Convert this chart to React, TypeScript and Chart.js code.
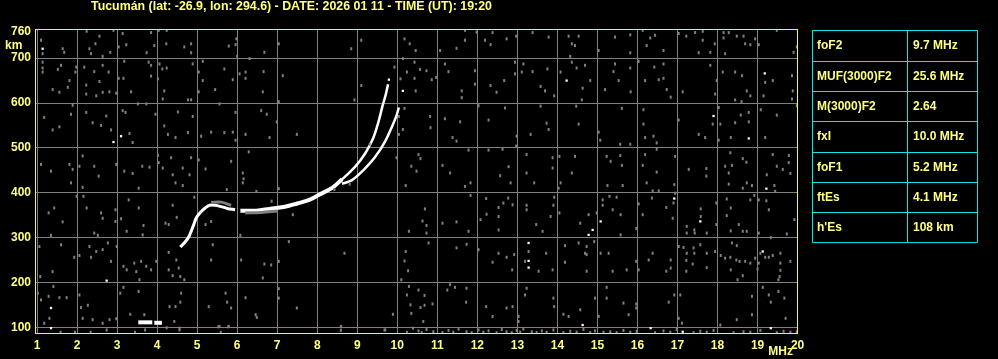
import { useEffect, useRef } from "react";
import { Chart, registerables } from "chart.js";

Chart.register(...registerables);

type P = [number, number];

const TITLE = "Tucumán (lat: -26.9, lon: 294.6) - DATE: 2026 01 11 - TIME (UT): 19:20";
const freqTicks = [1, 2, 3, 4, 5, 6, 7, 8, 9, 10, 11, 12, 13, 14, 15, 16, 17, 18, 19, 20];
const heightTicks = [100, 200, 300, 400, 500, 600, 700, 760];
const paramNames = ["foF2", "MUF(3000)F2", "M(3000)F2", "fxI", "foF1", "ftEs", "h'Es"];
const paramValues = ["9.7 MHz", "25.6 MHz", "2.64", "10.0 MHz", "5.2 MHz", "4.1 MHz", "108 km"];

// Echo traces (frequency MHz, virtual height km)
const traceF1: P[] = [[4.58, 279], [4.7, 290], [4.8, 303], [4.92, 330], [4.98, 344], [5.08, 356], [5.2, 366], [5.31, 372], [5.45, 372], [5.6, 369], [5.75, 365], [5.95, 362]];
const traceF2Low: P[] = [[6.08, 360], [6.48, 360], [6.81, 364], [7.16, 368], [7.5, 376], [7.8, 384], [8.06, 396], [8.39, 412], [8.62, 430]];
const traceF2High: P[] = [[8.6, 428], [8.95, 458], [9.2, 488], [9.4, 522], [9.53, 558], [9.63, 593], [9.71, 618], [9.77, 642]];
const traceX: P[] = [[8.62, 420], [8.87, 428], [9.15, 450], [9.45, 480], [9.7, 515], [9.88, 550], [9.98, 572], [10.04, 590]];
const traceEsA: P[] = [[3.53, 111], [3.88, 111]];
const traceEsB: P[] = [[3.93, 110], [4.12, 110]];
const fringeF1: P[] = [[5.35, 378], [5.6, 379], [5.85, 372]];
const fringeF2: P[] = [[6.2, 355], [6.6, 356], [7.0, 359]];

// Bright isolated echoes
const noiseWhite: P[] = [[1.14, 721], [10.14, 627], [3.1, 526], [2.91, 513], [14.23, 650], [19.18, 666], [17.9, 571], [18.78, 521], [1.35, 143], [1.35, 98], [2.74, 204], [19.22, 409], [14.78, 306], [14.88, 317], [15.08, 336], [16.92, 387], [17.57, 336], [13.28, 288], [13.28, 248], [13.28, 233], [14.63, 105], [16.33, 98], [17.13, 90], [19.33, 98], [19.13, 269], [9.79, 652]];

// Grey background echoes, read region by region
const noiseUpperLeft: P[] = [[2.24, 760], [2.56, 749], [2.91, 762], [3.14, 755], [3.85, 757], [4.04, 762], [4.24, 762], [1.10, 740], [1.14, 710], [1.14, 691], [1.14, 669], [1.68, 713], [1.64, 721], [2.31, 721], [2.35, 710], [2.46, 732], [2.64, 704], [2.83, 713], [3.04, 725], [3.23, 730], [3.74, 712], [3.93, 728], [4.23, 732], [4.68, 725], [4.85, 732], [4.85, 712], [5.79, 727], [5.98, 743], [5.96, 730], [6.0, 704], [6.68, 713], [7.04, 732], [8.85, 721], [9.1, 740], [10.18, 743], [10.31, 732], [10.46, 717], [10.14, 699],
  [1.14, 678], [1.6, 684], [1.52, 675], [1.81, 650], [1.77, 635], [1.39, 630], [1.56, 624], [1.96, 669], [1.98, 680], [2.18, 680], [2.43, 670], [2.64, 684], [2.79, 669], [2.56, 648], [2.23, 640], [2.23, 620], [2.48, 616], [2.64, 624], [2.81, 625], [2.98, 622], [3.04, 655], [3.18, 693], [3.16, 655], [3.35, 625], [3.79, 691], [3.85, 684], [3.85, 660], [4.06, 687], [4.13, 676], [4.24, 678], [4.02, 654], [4.18, 627], [4.14, 609], [4.89, 687], [4.77, 607], [4.85, 607], [5.14, 693], [5.04, 669], [5.14, 650], [5.04, 625], [5.45, 630], [5.68, 676], [5.89, 652], [6.06, 665], [6.21, 669], [6.21, 655], [6.31, 699], [6.66, 670], [6.64, 625], [7.14, 661], [7.04, 603], [8.93, 607], [9.1, 639], [9.93, 680], [10.08, 654], [10.24, 669], [10.43, 691], [10.43, 655], [10.46, 627],
  [1.18, 568], [1.39, 540], [1.56, 547], [1.85, 575], [1.89, 595], [2.23, 579], [2.39, 556], [2.73, 571], [2.6, 550], [2.85, 540], [3.14, 583], [3.21, 579], [3.31, 532], [3.39, 512], [3.52, 598], [3.73, 598], [3.96, 575], [4.18, 549], [4.27, 530], [4.46, 523], [4.52, 580], [4.77, 534], [4.89, 570], [5.1, 526], [5.35, 535], [5.56, 598], [5.68, 534], [5.89, 535], [5.96, 579], [5.96, 517], [6.21, 530], [6.6, 583], [6.74, 575], [6.81, 523], [6.99, 558], [7.49, 530], [10.18, 588], [10.04, 570], [10.14, 541], [10.04, 530],
  [1.1, 463], [1.35, 448], [1.81, 463], [1.89, 452], [2.06, 459], [2.14, 482], [2.43, 459], [2.54, 437], [2.98, 463], [3.18, 448], [3.39, 443], [3.63, 459], [3.81, 457], [4.02, 483], [4.04, 467], [4.14, 455], [4.35, 478], [4.39, 440], [4.64, 455], [4.81, 440], [4.85, 478], [5.04, 473], [5.21, 453], [5.85, 470], [6.14, 444], [6.16, 431], [6.29, 491], [9.31, 508], [9.98, 478], [10.35, 459], [10.48, 448]];

const noiseUpperRight: P[] = [[11.69, 762], [11.98, 758], [12.38, 757], [12.19, 740], [12.33, 730], [12.73, 743], [12.97, 749], [13.38, 757], [13.78, 747], [14.28, 749], [14.53, 749], [14.36, 732], [14.44, 728], [14.32, 704], [15.03, 717], [15.44, 747], [15.82, 752], [15.82, 712], [16.13, 762], [16.32, 745], [16.44, 751], [16.23, 728], [16.65, 717], [17.03, 755], [17.22, 749], [17.44, 757], [17.63, 760], [17.63, 740], [17.53, 712], [17.82, 713], [17.93, 732], [18.15, 757], [18.28, 757], [18.15, 745], [18.19, 710], [18.48, 749], [18.65, 749], [18.69, 732], [18.82, 730], [18.94, 743], [19.03, 730], [19.48, 762], [19.98, 725], [19.9, 713], [11.07, 717], [11.48, 722], [11.69, 740],
  [10.57, 675], [10.73, 672], [10.86, 652], [10.97, 657], [11.19, 687], [11.28, 670], [11.61, 627], [11.61, 612], [11.94, 672], [11.94, 642], [12.33, 639], [12.67, 650], [12.48, 624], [12.94, 691], [12.94, 665], [13.15, 687], [13.11, 669], [13.38, 670], [13.58, 637], [13.69, 627], [13.75, 676], [13.92, 616], [14.08, 669], [14.36, 691], [14.48, 678], [14.69, 684], [14.82, 650], [14.63, 633], [14.61, 607], [15.19, 630], [15.44, 687], [15.53, 650], [15.4, 670], [15.82, 678], [15.83, 625], [16.03, 693], [16.19, 650], [16.42, 680], [16.53, 652], [16.65, 687], [16.65, 655], [16.73, 630], [16.83, 613], [17.13, 625], [17.82, 684], [17.98, 650], [17.94, 620], [18.13, 669], [18.44, 669], [18.61, 661], [18.73, 627], [18.82, 616], [18.44, 607], [18.6, 603], [19.19, 646], [19.38, 650], [19.15, 616], [19.86, 661], [19.88, 627], [19.86, 609],
  [10.82, 570], [10.83, 545], [11.19, 565], [11.57, 558], [11.38, 523], [11.48, 515], [12.03, 594], [12.28, 562], [12.69, 589], [12.98, 526], [13.33, 530], [13.58, 593], [13.73, 555], [13.78, 541], [14.53, 553], [14.47, 593], [15.03, 535], [15.07, 517], [15.61, 588], [15.57, 508], [15.82, 508], [16.15, 585], [16.15, 553], [16.19, 523], [16.4, 526], [16.48, 511], [17.03, 562], [17.53, 530], [17.69, 523], [18.03, 590], [17.88, 553], [18.07, 553], [18.03, 517], [18.33, 523], [18.44, 556], [18.58, 573], [18.78, 579], [18.78, 558], [19.19, 523], [19.08, 585], [19.48, 573], [19.98, 594],
  [10.53, 485], [10.58, 476], [11.13, 461], [11.32, 444], [11.78, 495], [12.28, 495], [12.63, 497], [12.57, 438], [12.78, 458], [12.97, 504], [13.23, 485], [13.23, 444], [13.88, 478], [13.88, 455], [14.05, 481], [14.44, 481], [14.36, 444], [15.23, 481], [15.33, 470], [15.57, 483], [15.61, 461], [16.13, 461], [16.19, 485], [16.48, 497], [16.48, 446], [16.94, 481], [17.28, 452], [17.72, 454], [17.72, 437], [18.32, 489], [18.36, 461], [18.19, 459], [18.28, 444], [18.63, 476], [18.72, 468], [19.23, 440], [19.38, 485], [19.48, 459], [19.63, 452], [19.78, 483], [19.78, 467], [19.82, 443]];

const noiseLowerLeft: P[] = [[1.85, 422], [2.14, 412], [3.54, 410], [4.46, 422], [4.64, 416], [5.74, 407], [6.14, 422], [7.04, 409], [8.81, 419], [10.21, 416],
  [1.99, 392], [2.16, 392], [1.43, 366], [1.29, 355], [1.64, 335], [2.24, 366], [1.35, 305], [2.43, 310], [2.52, 305], [2.6, 355], [2.64, 343], [2.96, 362], [2.96, 336], [3.1, 342], [3.24, 314], [3.29, 384], [3.54, 366], [3.66, 327], [3.64, 306], [4.21, 332], [4.29, 329], [4.39, 372], [4.49, 345], [4.93, 390], [5.21, 329], [5.35, 336], [6.48, 403], [6.86, 381], [7.39, 351], [8.43, 407], [6.08, 305], [10.29, 314],
  [1.06, 280], [1.6, 284], [1.93, 256], [2.06, 260], [2.31, 280], [2.35, 256], [2.48, 269], [2.64, 273], [2.77, 288], [2.85, 247], [2.99, 280], [3.16, 236], [3.24, 228], [3.43, 243], [3.48, 224], [3.6, 247], [3.73, 236], [3.56, 206], [3.85, 228], [3.98, 247], [4.29, 267], [4.29, 228], [4.39, 215], [4.48, 250], [4.54, 232], [4.58, 213], [4.68, 206], [5.35, 250], [5.39, 284], [6.1, 250], [6.68, 241], [6.85, 239], [6.64, 210], [7.04, 247], [7.29, 291], [8.68, 265], [10.21, 269], [10.18, 248], [10.27, 226], [10.1, 206], [1.08, 213], [1.39, 224],
  [1.02, 176], [1.1, 161], [1.29, 169], [1.41, 191], [1.31, 120], [1.18, 109], [1.56, 166], [1.74, 166], [2.06, 172], [2.1, 144], [2.27, 149], [2.14, 120], [2.39, 117], [2.64, 109], [2.81, 117], [2.98, 119], [3.08, 176], [3.16, 189], [3.33, 129], [3.54, 180], [3.68, 128], [4.31, 146], [4.46, 146], [4.43, 113], [4.56, 98], [4.6, 176], [4.58, 156], [5.29, 146], [5.75, 156], [5.71, 176], [5.85, 143], [6.21, 166], [6.46, 128], [6.49, 122], [7.04, 186], [7.04, 165], [7.49, 143], [8.6, 102], [9.89, 129], [10.29, 191], [10.24, 172], [10.33, 150], [10.35, 131], [10.39, 98], [5.56, 102], [5.79, 102], [9.68, 94]];

const noiseLowerRight: P[] = [[11.69, 414], [11.83, 422], [12.83, 422], [13.42, 422], [14.03, 410], [14.08, 422], [15.25, 416], [15.63, 416], [16.23, 422], [16.38, 404], [16.53, 404], [16.92, 418], [16.94, 399], [18.28, 419], [18.63, 410], [18.73, 422], [18.86, 416], [19.42, 416], [19.44, 403],
  [10.63, 337], [10.73, 327], [10.69, 364], [10.73, 310], [11.13, 332], [11.48, 335], [11.83, 394], [11.78, 314], [12.08, 340], [12.23, 352], [12.22, 387], [12.53, 367], [12.53, 347], [12.53, 317], [12.65, 377], [12.77, 388], [12.88, 373], [13.23, 372], [13.23, 362], [13.47, 329], [13.63, 314], [13.83, 347], [13.9, 372], [13.92, 390], [14.05, 355], [14.57, 332], [14.78, 351], [14.98, 355], [15.13, 384], [15.13, 372], [15.3, 392], [15.48, 390], [15.58, 351], [15.58, 306], [15.38, 362], [15.97, 320], [16.03, 375], [16.13, 351], [16.36, 388], [16.72, 367], [16.88, 343], [16.9, 377], [17.23, 325], [17.23, 310], [17.42, 317], [17.58, 364], [17.58, 347], [17.43, 310], [17.73, 310], [17.97, 377], [17.97, 329], [18.23, 386], [18.33, 366], [18.23, 349], [18.33, 315], [18.53, 329], [18.63, 314], [18.73, 314], [18.82, 384], [18.92, 394], [19.03, 384], [19.22, 382], [19.28, 362], [19.03, 310], [19.33, 300], [19.73, 308], [19.92, 340],
  [10.78, 288], [11.48, 277], [11.73, 285], [12.03, 273], [12.53, 265], [12.73, 256], [12.92, 262], [12.38, 245], [12.87, 228], [13.19, 247], [13.28, 269], [13.72, 265], [13.53, 225], [13.88, 228], [14.19, 282], [14.19, 245], [14.53, 288], [14.69, 265], [14.73, 262], [14.73, 280], [14.92, 291], [15.08, 265], [15.28, 265], [14.73, 225], [15.38, 225], [15.73, 228], [15.97, 247], [16.03, 228], [16.28, 250], [16.38, 265], [16.83, 250], [16.83, 232], [16.72, 225], [17.03, 280], [17.15, 278], [17.23, 265], [17.4, 277], [17.42, 265], [17.22, 249], [17.22, 225], [17.38, 241], [17.57, 284], [17.73, 265], [17.73, 233], [17.94, 269], [18.08, 260], [18.19, 254], [18.32, 256], [18.47, 250], [18.55, 247], [18.69, 247], [18.82, 243], [18.94, 254], [19.03, 243], [19.19, 256], [19.28, 256], [19.38, 260], [19.57, 265], [19.57, 243], [19.82, 247], [19.07, 265], [19.0, 230], [18.36, 288], [18.48, 282], [18.33, 228], [18.63, 215], [18.5, 206], [19.55, 213], [19.57, 227],
  [10.53, 183], [10.68, 171], [10.58, 144], [10.68, 149], [10.88, 152], [11.25, 183], [11.32, 195], [11.44, 189], [11.73, 187], [11.72, 156], [12.22, 146], [12.38, 124], [12.73, 143], [12.88, 146], [13.03, 124], [13.19, 172], [13.23, 187], [13.03, 113], [13.9, 165], [13.92, 146], [14.15, 129], [14.28, 124], [14.57, 139], [14.94, 165], [15.03, 124], [15.23, 189], [15.23, 165], [15.65, 154], [15.78, 128], [15.97, 152], [15.97, 143], [16.78, 156], [16.92, 172], [17.07, 172], [17.03, 120], [17.11, 109], [18.07, 105], [18.48, 117], [18.86, 169], [18.86, 128], [19.13, 189], [19.28, 172], [19.33, 156], [19.52, 180], [19.52, 206], [19.67, 165], [19.7, 120], [10.65, 113]];

const noiseBottom: P[] = [[1.59, 89], [1.95, 89], [2.34, 89], [2.74, 94], [3.45, 89], [3.7, 94], [4.24, 99], [4.56, 94], [5.53, 101], [5.59, 89], [5.78, 101], [8.59, 101], [8.59, 93], [9.7, 94], [10.24, 89],
  [10.53, 92], [10.61, 88], [10.73, 95], [10.9, 90], [11.13, 88], [11.28, 93], [11.4, 89], [11.53, 96], [11.73, 90], [11.86, 88], [12.03, 94], [12.15, 89], [12.28, 92], [12.48, 88], [12.61, 95], [12.73, 90], [12.86, 88], [12.98, 93], [13.07, 89], [13.15, 96], [13.36, 90], [13.48, 88], [13.61, 92], [13.73, 89], [13.9, 94], [14.15, 88], [14.32, 91], [14.48, 89], [14.65, 95], [14.82, 88], [14.94, 92], [15.15, 89], [15.32, 90], [15.48, 88], [15.65, 93], [15.82, 89], [15.98, 91], [16.44, 88], [16.65, 92], [16.82, 89], [16.98, 95], [17.4, 88], [17.57, 91], [17.73, 89], [17.9, 93], [18.4, 88], [18.65, 90], [18.82, 89], [19.07, 93], [19.48, 88], [19.65, 91], [19.82, 89], [19.98, 90]];

const YELLOW = "#ffff80";
const BORDER = "#ffff00";
const GREY = "#808080";
const CYAN = "#10e8e8";
const FAMILY = "'Liberation Sans', Arial, sans-serif";
const FONT = `bold 12px ${FAMILY}`;
const TITLE_FONT = `bold 12.4px ${FAMILY}`;

const pts = (a: P[]) => a.map(([x, y]) => ({ x, y }));

const lineDs = (data: P[], color: string, width: number) => ({
  type: "line" as const,
  data: pts(data),
  showLine: true,
  borderColor: color,
  backgroundColor: color,
  borderWidth: width,
  pointRadius: 0,
  tension: 0.35,
  fill: false,
});

const overlayPlugin = {
  id: "ionoOverlay",
  beforeDraw(chart: any) {
    const c = chart.ctx;
    c.save();
    c.fillStyle = "#000";
    c.fillRect(0, 0, chart.width, chart.height);
    c.restore();
  },
  afterDraw(chart: any) {
    const c = chart.ctx;
    const a = chart.chartArea;
    c.save();
    c.strokeStyle = BORDER;
    c.lineWidth = 1;
    c.strokeRect(Math.round(a.left) - 0.5, Math.round(a.top) + 0.5, Math.round(a.right - a.left), Math.round(a.bottom - a.top) - 1);
    c.fillStyle = YELLOW;
    c.textBaseline = "middle";
    c.textAlign = "left";
    c.font = TITLE_FONT;
    c.fillText(TITLE, 91, 7);
    c.font = FONT;
    c.fillText("km", 5, 46);
    c.textAlign = "right";
    c.fillText("MHz", 793, 352);
    // parameter table
    const tx0 = 812.5, tx1 = 907.5, tx2 = 977.5;
    const ty0 = 30.5, rowH = 30.3;
    c.strokeStyle = CYAN;
    c.beginPath();
    c.rect(tx0, ty0, tx2 - tx0, rowH * paramNames.length);
    c.moveTo(tx1, ty0);
    c.lineTo(tx1, ty0 + rowH * paramNames.length);
    for (let i = 1; i < paramNames.length; i++) {
      const y = Math.round(ty0 + rowH * i) + 0.5;
      c.moveTo(tx0, y);
      c.lineTo(tx2, y);
    }
    c.stroke();
    c.textAlign = "left";
    c.fillStyle = YELLOW;
    paramNames.forEach((n, i) => {
      const y = ty0 + rowH * i + rowH / 2 + 0.5;
      c.fillText(n, 817, y);
      c.fillText(paramValues[i], 913, y);
    });
    c.restore();
  },
};

export default function App() {
  const ref = useRef<HTMLCanvasElement | null>(null);
  useEffect(() => {
    document.body.style.margin = "0";
    document.body.style.background = "#000";
    if (!ref.current) return;
    const noiseStyle = {
      pointStyle: "line" as const,
      rotation: 90,
      pointRadius: 1.5,
      borderWidth: 2,
      borderColor: GREY,
      backgroundColor: GREY,
    };
    const chart = new Chart(ref.current, {
      type: "scatter",
      data: {
        datasets: [
          { data: pts(noiseUpperLeft), ...noiseStyle },
          { data: pts(noiseUpperRight), ...noiseStyle },
          { data: pts(noiseLowerLeft), ...noiseStyle },
          { data: pts(noiseLowerRight), ...noiseStyle },
          { data: pts(noiseBottom), ...noiseStyle },
          lineDs(fringeF1, GREY, 3),
          lineDs(fringeF2, GREY, 3),
          lineDs(traceF1, "#fff", 3),
          lineDs(traceF2Low, "#fff", 4),
          lineDs(traceF2High, "#fff", 2.5),
          lineDs(traceX, "#fff", 2.5),
          lineDs(traceEsA, "#fff", 4),
          lineDs(traceEsB, "#fff", 4),
          { data: pts(noiseWhite), pointStyle: "rect", pointRadius: 1.6, borderWidth: 0, backgroundColor: "#fff", borderColor: "#fff" },
        ] as any,
      },
      options: {
        animation: false,
        responsive: false,
        devicePixelRatio: 1,
        events: [],
        layout: { padding: { left: 0, top: 29, right: 200, bottom: 0 } },
        plugins: { legend: { display: false }, tooltip: { enabled: false }, title: { display: false } },
        scales: {
          x: {
            type: "linear",
            min: 0.975,
            max: 20.01,
            afterBuildTicks: (s: any) => { s.ticks = freqTicks.map((v) => ({ value: v })); },
            afterFit: (s: any) => { s.height = 25; },
            border: { display: false },
            grid: { color: GREY, lineWidth: 1, drawTicks: false },
            ticks: { color: YELLOW, font: { family: FAMILY, size: 12, weight: "bold" }, padding: 4, maxRotation: 0, autoSkip: false },
          },
          y: {
            type: "linear",
            min: 85,
            max: 765,
            afterBuildTicks: (s: any) => { s.ticks = heightTicks.map((v) => ({ value: v })); },
            afterFit: (s: any) => { s.width = 36; },
            border: { display: false },
            grid: { color: (ctx: any) => (ctx.tick && ctx.tick.value === 760 ? "rgba(0,0,0,0)" : GREY), lineWidth: 1, drawTicks: false },
            ticks: { color: YELLOW, font: { family: FAMILY, size: 12, weight: "bold" }, padding: 5, autoSkip: false },
          },
        },
      } as any,
      plugins: [overlayPlugin],
    });
    return () => chart.destroy();
  }, []);
  return (
    <div style={{ width: 998, height: 359, background: "#000" }}>
      <canvas ref={ref} width={998} height={359} style={{ display: "block" }} />
    </div>
  );
}
